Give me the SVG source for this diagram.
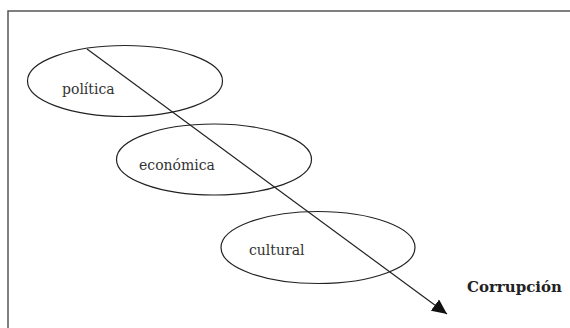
<svg xmlns="http://www.w3.org/2000/svg" width="570" height="328" viewBox="0 0 570 328">
<defs>
<style>
.frame{fill:none;stroke:#555;stroke-width:1.5}
.node ellipse{fill:none;stroke:#222;stroke-width:1.2}
.node text{font-family:"DejaVu Serif","Liberation Serif",serif;font-size:14px;fill:#333}
.lbl{font-family:"DejaVu Serif","Liberation Serif",serif;font-size:15px;font-weight:bold;fill:#222}
.conn{stroke:#222;stroke-width:1.2;fill:none}
</style>
<marker id="arrow" markerWidth="16" markerHeight="14" refX="15" refY="7" orient="auto" markerUnits="userSpaceOnUse">
<path d="M0,0 L15,7 L0,14 Z" fill="#111"/>
</marker>
</defs>
<rect width="570" height="328" fill="#fff"/>
<path class="frame" d="M8,340 V11 H580"/>
<g id="connectors">
<line class="conn" x1="87" y1="49" x2="447" y2="314" marker-end="url(#arrow)"/>
</g>
<g id="politica" class="node">
<ellipse cx="125" cy="81" rx="97.5" ry="35.5"/>
<text x="62" y="94">política</text>
</g>
<g id="economica" class="node">
<ellipse cx="214" cy="159.5" rx="97.5" ry="35.5"/>
<text x="139" y="170">económica</text>
</g>
<g id="cultural" class="node">
<ellipse cx="318" cy="247.5" rx="97" ry="36"/>
<text x="249" y="255">cultural</text>
</g>
<g id="corrupcion">
<text class="lbl" x="467" y="292">Corrupción</text>
</g>
</svg>
